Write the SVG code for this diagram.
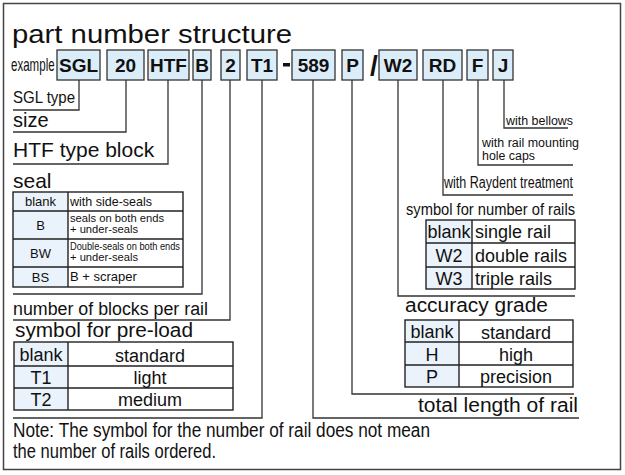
<svg xmlns="http://www.w3.org/2000/svg" width="625" height="475" viewBox="0 0 625 475">
<style>
text{font-family:"Liberation Sans",Arial,sans-serif;fill:#111}
.code rect{fill:#dcedfa;stroke:#333;stroke-width:1.3}
.code text{font-weight:bold;font-size:19px;text-anchor:middle}
.lead{fill:none;stroke:#333;stroke-width:1.3}
.tb{fill:none;stroke:#222;stroke-width:1.4}
.c1{fill:#eaf3fb}
.big{font-size:20px}
.mid{text-anchor:middle}
</style>
<rect x="3.5" y="3.5" width="617" height="466" fill="#fff" stroke="#444" stroke-width="1.5"/>
<text x="12" y="43" font-size="25" textLength="280" lengthAdjust="spacingAndGlyphs">part number structure</text>
<text transform="translate(11,71) scale(0.66,1)" font-size="17.5">example</text>

<g id="codes" class="code">
<g id="c-sgl"><rect x="57" y="50" width="43" height="30"/><text x="78.5" y="72">SGL</text></g>
<g id="c-20"><rect x="107" y="50" width="37" height="30"/><text x="125.5" y="72">20</text></g>
<g id="c-htf"><rect x="148" y="50" width="41" height="30"/><text x="168.5" y="72">HTF</text></g>
<g id="c-b"><rect x="193" y="50" width="18" height="30"/><text x="202" y="72">B</text></g>
<g id="c-2"><rect x="221" y="50" width="19" height="30"/><text x="230.5" y="72">2</text></g>
<g id="c-t1"><rect x="247" y="50" width="30" height="30"/><text x="262" y="72">T1</text></g>
<g id="c-589"><rect x="292" y="50" width="43" height="30"/><text x="313.5" y="72">589</text></g>
<g id="c-p"><rect x="342" y="50" width="21" height="30"/><text x="352.5" y="72">P</text></g>
<g id="c-w2"><rect x="379" y="50" width="38" height="30"/><text x="398" y="72">W2</text></g>
<g id="c-rd"><rect x="423" y="50" width="39" height="30"/><text x="442.5" y="72">RD</text></g>
<g id="c-f"><rect x="467" y="50" width="21" height="30"/><text x="477.5" y="72">F</text></g>
<g id="c-j"><rect x="493" y="50" width="20" height="30"/><text x="503" y="72">J</text></g>
</g>
<rect x="283" y="63" width="7" height="3.5" fill="#111"/>
<text x="374" y="75" font-size="28" font-weight="bold" text-anchor="middle">/</text>

<g id="connectors" class="lead">
<polyline points="79,80 79,110 13,110"/>
<polyline points="126,80 126,132 13,132"/>
<polyline points="168,80 168,164 13,164"/>
<polyline points="202,80 202,294 13,294"/>
<polyline points="230,80 230,320 13,320"/>
<polyline points="262,80 262,418 13,418"/>
<polyline points="313,80 313,418 579,418"/>
<polyline points="352,80 352,394 574,394"/>
<polyline points="398,80 398,296 575,296"/>
<polyline points="443,80 443,195 573,195"/>
<polyline points="478,80 478,165 573,165"/>
<polyline points="504,80 504,128 568,128"/>
</g>

<g id="lbl-sgl"><text x="13" y="103" font-size="17" textLength="62" lengthAdjust="spacingAndGlyphs">SGL type</text></g>
<g id="lbl-size"><text x="13" y="127" class="big">size</text></g>
<g id="lbl-htf"><text x="13" y="157" font-size="21">HTF type block</text></g>

<g id="seal">
<text x="13" y="188" font-size="21">seal</text>
<rect class="c1" x="13" y="192" width="55" height="95"/>
<rect class="tb" x="13" y="192" width="170" height="95"/>
<path class="tb" d="M68,192V287M13,211H183M13,239H183M13,267H183"/>
<g font-size="13">
<text class="mid" x="40.5" y="206">blank</text>
<text class="mid" x="40.5" y="230">B</text>
<text class="mid" x="40.5" y="258">BW</text>
<text class="mid" x="40.5" y="282">BS</text>
<text x="70" y="206" textLength="82" lengthAdjust="spacingAndGlyphs">with side-seals</text>
<text x="70" y="281">B + scraper</text>
</g>
<g font-size="10.5">
<text x="70" y="222" textLength="94" lengthAdjust="spacingAndGlyphs">seals on both ends</text>
<text x="70" y="233" textLength="68" lengthAdjust="spacingAndGlyphs">+ under-seals</text>
<text x="70" y="250" textLength="110" lengthAdjust="spacingAndGlyphs">Double-seals on both ends</text>
<text x="70" y="261" textLength="68" lengthAdjust="spacingAndGlyphs">+ under-seals</text>
</g>
</g>

<g id="lbl-blocks"><text x="13" y="315" font-size="18" textLength="195" lengthAdjust="spacingAndGlyphs">number of blocks per rail</text></g>

<g id="preload">
<text x="15" y="337" class="big" textLength="178" lengthAdjust="spacingAndGlyphs">symbol for pre-load</text>
<rect class="c1" x="14" y="342" width="54" height="68"/>
<rect class="tb" x="14" y="342" width="219" height="68"/>
<path class="tb" d="M68,342V410M14,366H233M14,388H233"/>
<g font-size="18">
<text class="mid" x="41" y="361">blank</text>
<text class="mid" x="41" y="384">T1</text>
<text class="mid" x="41" y="406">T2</text>
<text class="mid" x="150" y="362">standard</text>
<text class="mid" x="150" y="384">light</text>
<text class="mid" x="150" y="406">medium</text>
</g>
</g>

<g id="lbl-length"><text x="418" y="412" class="big" textLength="160" lengthAdjust="spacingAndGlyphs">total length of rail</text></g>

<g id="accuracy">
<text x="405" y="312" class="big" textLength="143" lengthAdjust="spacingAndGlyphs">accuracy grade</text>
<rect class="c1" x="405" y="320" width="54" height="67"/>
<rect class="tb" x="405" y="320" width="168" height="67"/>
<path class="tb" d="M459,320V387M405,342H573M405,365H573"/>
<g font-size="18">
<text class="mid" x="432" y="338">blank</text>
<text class="mid" x="432" y="361">H</text>
<text class="mid" x="432" y="383">P</text>
<text class="mid" x="516" y="339">standard</text>
<text class="mid" x="516" y="361">high</text>
<text class="mid" x="516" y="383">precision</text>
</g>
</g>

<g id="rails">
<text x="406" y="215" font-size="17" textLength="169" lengthAdjust="spacingAndGlyphs">symbol for number of rails</text>
<rect class="c1" x="426" y="220" width="46" height="69"/>
<rect class="tb" x="426" y="220" width="149" height="69"/>
<path class="tb" d="M472,220V289M426,243H575M426,267H575"/>
<g font-size="18">
<text class="mid" x="449" y="238">blank</text>
<text class="mid" x="449" y="262">W2</text>
<text class="mid" x="449" y="285">W3</text>
<text x="475" y="238">single rail</text>
<text x="475" y="262">double rails</text>
<text x="475" y="285">triple rails</text>
</g>
</g>

<g id="lbl-rd"><text x="444" y="188" font-size="16" textLength="129" lengthAdjust="spacingAndGlyphs">with Raydent treatment</text></g>
<g id="lbl-f"><text x="482" y="147" font-size="12.5" textLength="97" lengthAdjust="spacingAndGlyphs">with rail mounting</text><text x="482" y="160" font-size="12.5" textLength="53" lengthAdjust="spacingAndGlyphs">hole caps</text></g>
<g id="lbl-j"><text x="506" y="125" font-size="13.5" textLength="67" lengthAdjust="spacingAndGlyphs">with bellows</text></g>

<g id="note" font-size="20">
<text x="13" y="437" textLength="417" lengthAdjust="spacingAndGlyphs">Note: The symbol for the number of rail does not mean</text>
<text x="13" y="458" textLength="203" lengthAdjust="spacingAndGlyphs">the number of rails ordered.</text>
</g>
</svg>
